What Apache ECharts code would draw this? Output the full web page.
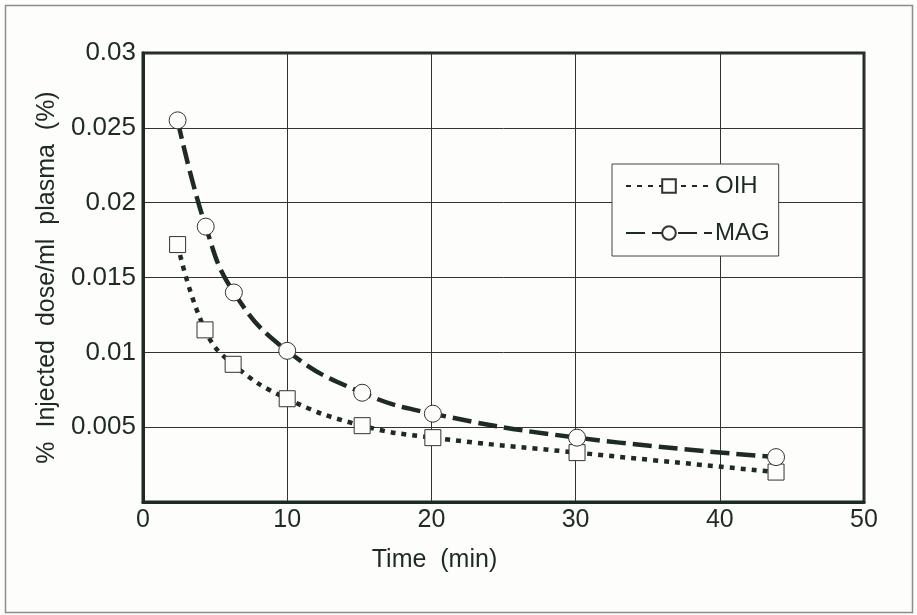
<!DOCTYPE html>
<html>
<head>
<meta charset="utf-8">
<script src="https://cdn.jsdelivr.net/npm/echarts@6/dist/echarts.min.js"></script>
<style>
html,body{margin:0;padding:0;background:#fdfdfb;}
#c{width:917px;height:615px;}
</style>
</head>
<body>
<div id="c"></div>
<script>
const timeMAG = [2.4, 4.35, 6.3, 10, 15.2, 20.1, 30.1, 43.9];
const valuesMAG = [0.0255, 0.0184, 0.0140, 0.0101, 0.0073, 0.0059, 0.0043, 0.0030];
const timeOIH = [2.4, 4.3, 6.25, 10, 15.2, 20.1, 30.1, 43.9];
const valuesOIH = [0.0172, 0.0115, 0.0092, 0.0069, 0.0051, 0.0043, 0.0033, 0.0020];
const xTicks = [0, 10, 20, 30, 40, 50];
const yTickLabels = ['', '0.005', '0.01', '0.015', '0.02', '0.025', '0.03'];

const ink = '#1e2b25';
const font = '"Liberation Sans", Arial, sans-serif';

const chart = echarts.init(document.getElementById('c'), null, {renderer: 'canvas'});
chart.setOption({
  backgroundColor: '#fdfdfb',
  animation: false,
  graphic: [{
    type: 'rect', left: 3, top: 3, shape: {width: 907, height: 607},
    style: {fill: 'none', stroke: '#8a8f8c', lineWidth: 1.5}, silent: true
  }],
  grid: {left: 143, top: 53, right: 53, bottom: 113, show: true, borderColor: ink, borderWidth: 3, backgroundColor: 'transparent'},
  legend: {
    orient: 'vertical', left: 612, top: 164,
    padding: [10, 9, 11, 13], itemGap: 23,
    backgroundColor: '#fdfdfb', borderColor: '#444', borderWidth: 1,
    itemWidth: 86, itemHeight: 17,
    textStyle: {fontFamily: font, fontSize: 24, color: ink, padding: [0, 0, 0, -2]},
    data: ['OIH', 'MAG']
  },
  xAxis: {
    type: 'value', min: 0, max: 50, interval: 10,
    name: 'Time  (min)', nameLocation: 'middle', nameGap: 46,
    nameTextStyle: {fontFamily: font, fontSize: 25, color: ink, padding: [0, 138, 0, 0]},
    axisLine: {show: true, lineStyle: {color: ink, width: 3}},
    axisTick: {show: false},
    axisLabel: {fontFamily: font, fontSize: 25, color: ink, margin: 6,
      formatter: v => xTicks.includes(v) ? String(v) : ''},
    splitLine: {show: true, lineStyle: {color: '#333', width: 1}}
  },
  yAxis: {
    type: 'value', min: 0, max: 0.03, interval: 0.005,
    name: '%  Injected  dose/ml  plasma  (%)', nameLocation: 'middle', nameGap: 83,
    nameTextStyle: {fontFamily: font, fontSize: 25, color: ink},
    axisLine: {show: true, lineStyle: {color: ink, width: 3}},
    axisTick: {show: false},
    axisLabel: {fontFamily: font, fontSize: 26, color: ink, margin: 7,
      formatter: v => yTickLabels[Math.round(v / 0.005)] || ''},
    splitLine: {show: true, lineStyle: {color: '#333', width: 1}}
  },
  series: [
    {
      name: 'OIH', type: 'line', smooth: 0.45,
      data: timeOIH.map((t, i) => [t, valuesOIH[i]]),
      symbol: 'rect', symbolSize: 16,
      itemStyle: {color: '#fdfdfb', borderColor: '#333', borderWidth: 1},
      lineStyle: {color: ink, width: 4.5, type: [5, 6], cap: 'butt'},
      z: 2
    },
    {
      name: 'MAG', type: 'line', smooth: 0.45,
      data: timeMAG.map((t, i) => [t, valuesMAG[i]]),
      symbol: 'circle', symbolSize: 17,
      itemStyle: {color: '#fdfdfb', borderColor: '#333', borderWidth: 1},
      lineStyle: {color: ink, width: 4.5, type: [19, 7], cap: 'butt'},
      z: 3
    }
  ]
});
</script>
</body>
</html>
